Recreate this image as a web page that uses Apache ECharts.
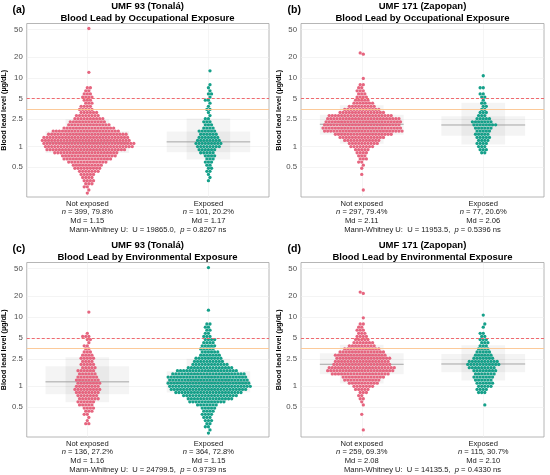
<!DOCTYPE html>
<html>
<head>
<meta charset="utf-8">
<script src="https://cdn.jsdelivr.net/npm/echarts@6/dist/echarts.min.js"></script>
<style>
html, body { margin: 0; padding: 0; background: #fff; }
#main { width: 550px; height: 475px; }
</style>
</head>
<body>
<div id="main"></div>
<script>
// blood lead level of each swarm row (µg/dL)
var levels = [0.211, 0.234, 0.260, 0.288, 0.320, 0.355, 0.394, 0.437, 0.484, 0.537, 0.596, 0.661, 0.733, 0.813, 0.902,
    1.00, 1.11, 1.23, 1.36, 1.51, 1.68, 1.86, 2.07, 2.29, 2.54, 2.82, 3.13, 3.47, 3.85, 4.27, 4.73,
    5.25, 5.82, 6.46, 7.16, 7.94, 8.81, 9.77];

// number of people at each level, per panel and group
var aNotCounts = [1,1,2,3,4,4,5,7,9,10,13,16,18,21,26,29,30,29,28,26,22,17,14,12,10,8,6,5,4,3,3,4,3,2,2,0,0,0];
var aExpCounts = [0,0,0,0,1,1,1,2,2,2,3,3,4,5,6,8,9,8,7,6,6,4,3,3,2,1,1,2,1,1,2,1,2,1,1,1,0,0];
var bNotCounts = [0,1,0,0,0,0,1,0,1,1,2,3,3,4,5,8,10,12,15,19,26,26,25,25,24,21,15,12,9,7,5,4,3,3,2,2,0,1];
var bExpCounts = [0,0,0,0,0,0,0,0,0,0,0,0,0,2,3,3,4,4,5,5,5,6,8,7,5,3,3,2,2,2,1,2,2,0,2,0,0,0];
var cNotCounts = [0,0,0,2,1,1,2,3,4,5,6,7,7,8,9,8,8,8,7,6,6,5,5,4,5,4,3,2,2,1,2,3,1,0,0,0,0,0];
var cExpCounts = [1,1,2,2,3,3,4,4,5,7,12,15,18,22,25,27,27,26,26,24,20,15,12,10,9,7,6,5,5,4,4,3,2,2,2,2,0,0];
var dNotCounts = [0,1,0,0,0,0,1,0,0,1,1,2,2,3,5,7,10,12,14,19,22,22,19,18,18,17,15,12,9,7,5,4,3,3,2,2,0,1];
var dExpCounts = [0,0,0,0,0,0,0,0,0,1,0,0,0,3,4,5,6,6,7,7,8,9,11,10,7,6,5,4,3,3,3,2,2,0,1,1,0,0];

// isolated high values
var aNotHigh = [12, 52];
var aExpHigh = [12.6];
var bNotHigh = [22, 23];
var bExpHigh = [10.7];
var cNotHigh = [11.8];
var cExpHigh = [12.6, 52];
var dNotHigh = [22, 23];
var dExpHigh = [10.7];

// shaded boxes: [outer low, inner low, median, inner high, outer high]
var aNotBox = [0.62, 0.81, 1.15, 1.67, 2.5];
var aExpBox = [0.65, 0.83, 1.17, 1.65, 2.55];
var bNotBox = [1.1, 1.49, 2.11, 2.9, 4.0];
var bExpBox = [1.07, 1.44, 2.06, 2.75, 4.34];
var cNotBox = [0.59, 0.77, 1.16, 1.95, 2.63];
var cExpBox = [0.62, 0.81, 1.15, 1.65, 2.5];
var dNotBox = [1.1, 1.49, 2.08, 3.0, 4.0];
var dExpBox = [1.21, 1.6, 2.10, 2.94, 3.93];

var panelTags = ['(a)', '(b)', '(c)', '(d)'];
var panelTitles = [
    'UMF 93 (Tonalá)\nBlood Lead by Occupational Exposure',
    'UMF 171 (Zapopan)\nBlood Lead by Occupational Exposure',
    'UMF 93 (Tonalá)\nBlood Lead by Environmental Exposure',
    'UMF 171 (Zapopan)\nBlood Lead by Environmental Exposure'
];
var groupNames = ['Not exposed', 'Exposed'];
var groupN = [[399, 101], [297, 77], [136, 364], [259, 115]];
var groupPct = [['79.8', '20.2'], ['79.4', '20.6'], ['27.2', '72.8'], ['69.3', '30.7']];
var groupMd = [['1.15', '1.17'], ['2.11', '2.06'], ['1.16', '1.15'], ['2.08', '2.10']];
var mwU = ['19865.0', '11953.5', '24799.5', '14135.5'];
var mwP = ['0.8267', '0.5396', '0.9739', '0.4330'];

var yTicks = [0.5, 1, 2.5, 5, 10, 20, 50];
var yTickLabels = ['0.5', '1', '2.5', '5', '10', '20', '50'];
var refHigh = 5;     // dashed red line
var refLow = 3.5;    // orange line

var counts = [[aNotCounts, aExpCounts], [bNotCounts, bExpCounts], [cNotCounts, cExpCounts], [dNotCounts, dExpCounts]];
var highs = [[aNotHigh, aExpHigh], [bNotHigh, bExpHigh], [cNotHigh, cExpHigh], [dNotHigh, dExpHigh]];
var boxes = [[aNotBox, aExpBox], [bNotBox, bExpBox], [cNotBox, cExpBox], [dNotBox, dExpBox]];

var FONT = 'Liberation Sans, Arial, Helvetica, sans-serif';
var PINK = '#e6657f';
var TEAL = '#15a08a';
var colors = [PINK, TEAL];
var centers = [0.5, 1.5];
var GAP_X = 3.1;   // horizontal spacing of points in a row, px
var GAP_Y = 2.4;   // points closer than this vertically share a row, px

var grids = [
    { left: 26, top: 23.5, width: 243, height: 173.5 },
    { left: 301, top: 23.5, width: 243, height: 173.5 },
    { left: 26, top: 262.5, width: 243, height: 174.5 },
    { left: 301, top: 262.5, width: 243, height: 174.5 }
];

var chart = echarts.init(document.getElementById('main'));

var xAxes = [], yAxes = [], graphics = [];
grids.forEach(function (g, p) {
    g.show = true;
    g.borderColor = '#a3a3a3';
    g.borderWidth = 0.8;
    g.backgroundColor = '#fff';
    g.containLabel = false;
    xAxes.push({
        type: 'value', gridIndex: p, min: 0, max: 2,
        axisLine: { show: false },
        axisTick: { show: false, customValues: centers },
        splitLine: { show: true, lineStyle: { color: '#efefef', width: 0.6 } },
        axisLabel: {
            customValues: centers, margin: 3, fontSize: 7.6, lineHeight: 8.2,
            color: '#1a1a1a', fontFamily: FONT,
            formatter: function (v) {
                var j = v < 1 ? 0 : 1;
                return groupNames[j] + '\n{i|n} = ' + groupN[p][j] + ', ' + groupPct[p][j] + '%\nMd = ' + groupMd[p][j];
            },
            rich: { i: { fontStyle: 'italic', fontSize: 7.6, lineHeight: 8.2, color: '#1a1a1a', fontFamily: FONT } }
        },
        name: 'Mann-Whitney U:  U = ' + mwU[p] + ',  {i|p} = ' + mwP[p] + ' ns',
        nameLocation: 'middle', nameGap: 26,
        nameTextStyle: {
            fontSize: 7.6, color: '#1a1a1a', fontFamily: FONT,
            rich: { i: { fontStyle: 'italic', fontSize: 7.6, color: '#1a1a1a', fontFamily: FONT } }
        }
    });
    yAxes.push({
        type: 'log', logBase: 10, gridIndex: p, min: 0.185, max: 61.5,
        axisLine: { show: false },
        axisTick: { show: false, customValues: yTicks },
        splitLine: { show: true, lineStyle: { color: '#ececec', width: 0.6 } },
        axisLabel: {
            customValues: yTicks, margin: 4, fontSize: 7.8, color: '#4d4d4d', fontFamily: FONT,
            formatter: function (v) {
                var best = 0;
                yTicks.forEach(function (t, i) { if (Math.abs(t - v) < Math.abs(yTicks[best] - v)) best = i; });
                return yTickLabels[best];
            }
        },
        name: 'Blood lead level (µg/dL)', nameLocation: 'middle', nameGap: 11,
        nameTextStyle: { fontSize: 7.2, fontWeight: 'bold', color: '#000', fontFamily: FONT }
    });
    var cx = g.left + g.width / 2;
    graphics.push({
        type: 'text', x: cx, y: g.top - 23.5,
        style: {
            text: panelTitles[p], align: 'center', verticalAlign: 'top',
            fontSize: 9.5, fontWeight: 'bold', lineHeight: 12.5, fill: '#000', fontFamily: FONT
        }
    });
    graphics.push({
        type: 'text', x: g.left - 13.5, y: g.top - 19,
        style: {
            text: panelTags[p], align: 'left', verticalAlign: 'top',
            fontSize: 10.5, fontWeight: 'bold', fill: '#000', fontFamily: FONT
        }
    });
});

chart.setOption({
    backgroundColor: '#fff',
    animation: false,
    textStyle: { fontFamily: FONT },
    grid: grids,
    xAxis: xAxes,
    yAxis: yAxes,
    graphic: graphics,
    series: []
});

// lay the points of one group out in rows, side by side, closest to the centre first
function swarm(p, j) {
    var vals = [];
    counts[p][j].forEach(function (c, i) {
        for (var k = 0; k < c; k++) vals.push(levels[i]);
    });
    highs[p][j].forEach(function (v) { vals.push(v); });
    vals.sort(function (a, b) { return a - b; });

    var a0 = chart.convertToPixel({ gridIndex: p }, [0, 1]);
    var a1 = chart.convertToPixel({ gridIndex: p }, [1, 1]);
    var pxPerUnit = a1[0] - a0[0];
    var placed = [], out = [];
    vals.forEach(function (v, idx) {
        var y = chart.convertToPixel({ gridIndex: p }, [centers[j], v])[1];
        var near = placed.filter(function (q) { return Math.abs(q.y - y) < GAP_Y; });
        var start = (Math.round(y / 3.1) % 2) ? GAP_X / 2 : 0;
        var cands = [start];
        near.forEach(function (q) { cands.push(q.x + GAP_X, q.x - GAP_X); });
        var side = idx % 2 ? 1 : -1;
        cands.sort(function (a, b) {
            var d = Math.round(Math.abs(a) * 100) - Math.round(Math.abs(b) * 100);
            return d !== 0 ? d : (a - b) * side;
        });
        var x = start;
        for (var c = 0; c < cands.length; c++) {
            var cand = cands[c];
            var ok = near.every(function (q) { return Math.abs(q.x - cand) >= GAP_X - 0.01; });
            if (ok) { x = cand; break; }
        }
        placed.push({ x: x, y: y });
        out.push([centers[j] + x / pxPerUnit, v]);
    });
    return out;
}

var series = [];
grids.forEach(function (g, p) {
    var boxData = [];
    [0, 1].forEach(function (j) {
        var b = boxes[p][j];
        boxData.push([centers[j], b[0], b[4], 0.18, 0]);
        boxData.push([centers[j], b[1], b[3], 0.345, 0]);
        boxData.push([centers[j], b[2], b[2], 0.345, 1]);
    });
    series.push({
        type: 'custom', xAxisIndex: p, yAxisIndex: p, silent: true, z: 1,
        data: boxData,
        renderItem: function (params, api) {
            var x = api.value(0), lo = api.value(1), hi = api.value(2), hw = api.value(3);
            var a = api.coord([x - hw, hi]);
            var b = api.coord([x + hw, lo]);
            if (api.value(4) === 1) {
                return {
                    type: 'line',
                    shape: { x1: a[0], y1: a[1], x2: b[0], y2: a[1] },
                    style: { stroke: '#9c9c9c', lineWidth: 0.9 }
                };
            }
            return {
                type: 'rect',
                shape: { x: a[0], y: a[1], width: b[0] - a[0], height: b[1] - a[1] },
                style: { fill: 'rgba(0,0,0,0.045)' }
            };
        },
        markLine: {
            silent: true, symbol: 'none', label: { show: false },
            data: [
                { yAxis: refHigh, lineStyle: { color: '#f06a6f', type: [3, 2], width: 1.2 } },
                { yAxis: refLow, lineStyle: { color: '#fcc48e', type: 'solid', width: 0.9 } }
            ]
        }
    });
    [0, 1].forEach(function (j) {
        series.push({
            type: 'scatter', xAxisIndex: p, yAxisIndex: p, z: 3,
            symbol: 'circle', symbolSize: 3.3,
            itemStyle: { color: colors[j], opacity: 1 },
            data: swarm(p, j)
        });
    });
});

chart.setOption({ series: series });
</script>
</body>
</html>
